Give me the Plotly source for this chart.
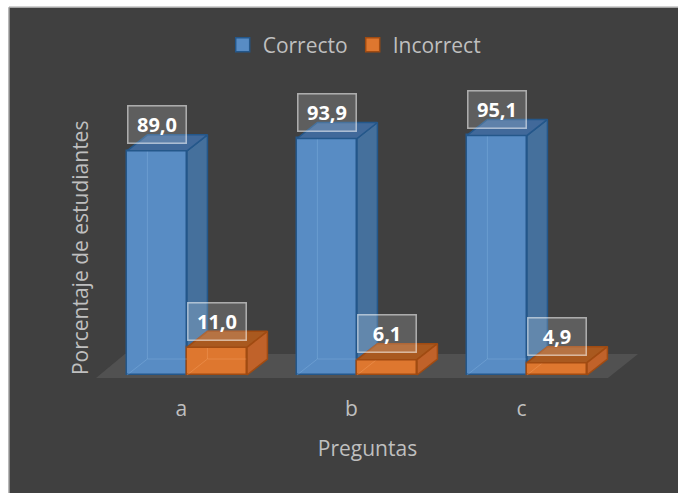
import plotly.graph_objects as go

# ---- data ----
preguntas = ["a", "b", "c"]
correcto = [89.0, 93.9, 95.1]
incorrect = [11.0, 6.1, 4.9]
series_names = ["Correcto", "Incorrect"]

# ---- pseudo-3D column geometry (axis units) ----
BAR_W = 0.353      # width of each column's front face
DEPTH_X = 0.12     # horizontal receding offset
DEPTH_Y = 6.35     # vertical receding offset

# ---- styling ----
BG = "#404040"
FLOOR = "#515151"
TEXT = "#bfbfbf"
FONT = "Open Sans"
FS = 21
BLUE = dict(front="#588cc4", side="#45709c", top="#41699a", edge="#24578a",
            ghost="rgba(140,185,230,0.35)")
ORANGE = dict(front="#de772f", side="#c0622a", top="#a9591f", edge="#a04b12",
              ghost="rgba(250,170,110,0.35)")

idx = list(range(len(preguntas)))


def fmt(v):
    return f"{v:.1f}".replace(".", ",")


def poly(xs, ys, fill, line):
    return go.Scatter(
        x=xs + [xs[0]], y=ys + [ys[0]], mode="lines", fill="toself",
        fillcolor=fill, line=dict(color=line, width=1.5),
        showlegend=False, hoverinfo="skip",
    )


def ghost(xs, ys, color):
    return go.Scatter(
        x=xs, y=ys, mode="lines", line=dict(color=color, width=1),
        showlegend=False, hoverinfo="skip",
    )


fig = go.Figure()

# front faces as bars
fig.add_trace(go.Bar(
    name=series_names[0], x=idx, y=correcto, width=BAR_W, offset=-BAR_W,
    marker=dict(color=BLUE["front"], line=dict(color=BLUE["edge"], width=1.5)),
    hoverinfo="skip", showlegend=False,
))
fig.add_trace(go.Bar(
    name=series_names[1], x=idx, y=incorrect, width=BAR_W, offset=0,
    marker=dict(color=ORANGE["front"], line=dict(color=ORANGE["edge"], width=1.5)),
    hoverinfo="skip", showlegend=False,
))

# legend swatches (square markers)
for name, pal in zip(series_names, (BLUE, ORANGE)):
    fig.add_trace(go.Scatter(
        x=[None], y=[None], mode="markers", name=name,
        marker=dict(symbol="square", size=14, color=pal["front"],
                    line=dict(color=pal["edge"], width=1.5)),
    ))

# hidden back edges seen through the translucent columns
for i, vc, vi in zip(idx, correcto, incorrect):
    L = i - BAR_W
    R = i
    fig.add_trace(ghost([L, L + DEPTH_X, L + DEPTH_X], [0, DEPTH_Y, vc + DEPTH_Y], BLUE["ghost"]))
    fig.add_trace(ghost([L + DEPTH_X, R], [DEPTH_Y, DEPTH_Y], BLUE["ghost"]))
    fig.add_trace(ghost([R, R + DEPTH_X, R + DEPTH_X], [0, DEPTH_Y, vi + DEPTH_Y], ORANGE["ghost"]))
    fig.add_trace(ghost([R + DEPTH_X, R + BAR_W], [DEPTH_Y, DEPTH_Y], ORANGE["ghost"]))

# side and top faces
for i, vc, vi in zip(idx, correcto, incorrect):
    L = i - BAR_W
    R = i
    E = i + BAR_W
    # Correcto side (the part below the Incorrect top is hidden)
    fig.add_trace(poly([R, R + DEPTH_X, R + DEPTH_X, R],
                       [vi, vi + DEPTH_Y, vc + DEPTH_Y, vc], BLUE["side"], BLUE["edge"]))
    # Correcto top
    fig.add_trace(poly([L, R, R + DEPTH_X, L + DEPTH_X],
                       [vc, vc, vc + DEPTH_Y, vc + DEPTH_Y], BLUE["top"], BLUE["edge"]))
    # Incorrect top
    fig.add_trace(poly([R, E, E + DEPTH_X, R + DEPTH_X],
                       [vi, vi, vi + DEPTH_Y, vi + DEPTH_Y], ORANGE["top"], ORANGE["edge"]))
    # Incorrect side
    fig.add_trace(poly([E, E + DEPTH_X, E + DEPTH_X, E],
                       [0, DEPTH_Y, vi + DEPTH_Y, vi], ORANGE["side"], ORANGE["edge"]))

# value labels in translucent boxes
annotations = []
for i, vc, vi in zip(idx, correcto, incorrect):
    for xc, v in ((i - BAR_W / 2, vc), (i + BAR_W / 2, vi)):
        annotations.append(dict(
            x=xc, y=v, xref="x", yref="y", text=fmt(v), showarrow=False,
            yshift=26, width=54, height=33, borderpad=1.5,
            bgcolor="rgba(255,255,255,0.16)", bordercolor="rgba(255,255,255,0.55)",
            borderwidth=1.5,
            font=dict(family=FONT, size=20, color="white", weight="bold"),
        ))

annotations.append(dict(
    x=-0.018, y=0.43, xref="paper", yref="paper", text="Porcentaje de estudiantes",
    textangle=-90, showarrow=False, xanchor="center", yanchor="middle",
    font=dict(family=FONT, size=FS, color=TEXT),
))

n = len(preguntas)
# page edge: white strip on the left and top, thin grey rule along the chart frame
FX = -0.146   # frame left edge (paper)
FY = 1.16     # frame top edge (paper)
shapes = [
    dict(type="rect", xref="paper", yref="paper", x0=-0.5, x1=FX, y0=-0.5, y1=1.5,
         fillcolor="white", line=dict(width=0), layer="below"),
    dict(type="rect", xref="paper", yref="paper", x0=-0.5, x1=1.5, y0=FY, y1=1.5,
         fillcolor="white", line=dict(width=0), layer="below"),
    dict(type="line", xref="paper", yref="paper", x0=FX, x1=FX, y0=-0.5, y1=FY,
         line=dict(color="#a6a6a6", width=1.5), layer="below"),
    dict(type="line", xref="paper", yref="paper", x0=FX, x1=1.5, y0=FY, y1=FY,
         line=dict(color="#a6a6a6", width=1.5), layer="below"),
    # floor
    dict(type="path", xref="x", yref="y", layer="below", fillcolor=FLOOR, line=dict(width=0),
         path=(f"M {-0.535},{-1.2} L {n - 1 + 0.476},{-1.2} "
               f"L {n - 1 + 0.653},{8.3} L {-0.365},{8.3} Z")),
]

fig.update_layout(
    width=678, height=493,
    margin=dict(l=90, r=33, t=60, b=103),
    paper_bgcolor=BG, plot_bgcolor="rgba(0,0,0,0)",
    showlegend=True,
    legend=dict(orientation="h", x=0.476, xanchor="center", y=1.045, yanchor="middle",
                font=dict(family=FONT, size=FS, color=TEXT), bgcolor="rgba(0,0,0,0)",
                traceorder="normal", itemwidth=30),
    xaxis=dict(range=[-0.5706, 2.694], showgrid=False, zeroline=False, showline=False,
               tickvals=[i - 0.033 for i in idx], ticktext=preguntas, ticks="",
               tickfont=dict(family=FONT, size=FS, color=TEXT), ticklabelstandoff=4,
               title=dict(text="Preguntas", font=dict(family=FONT, size=FS, color=TEXT),
                          standoff=20)),
    yaxis=dict(range=[-5.95, 125.05], showgrid=False, zeroline=False, showline=False,
               showticklabels=False, ticks=""),
    bargap=0,
    shapes=shapes,
    annotations=annotations,
    hovermode=False,
)

fig.write_html("out.html")
